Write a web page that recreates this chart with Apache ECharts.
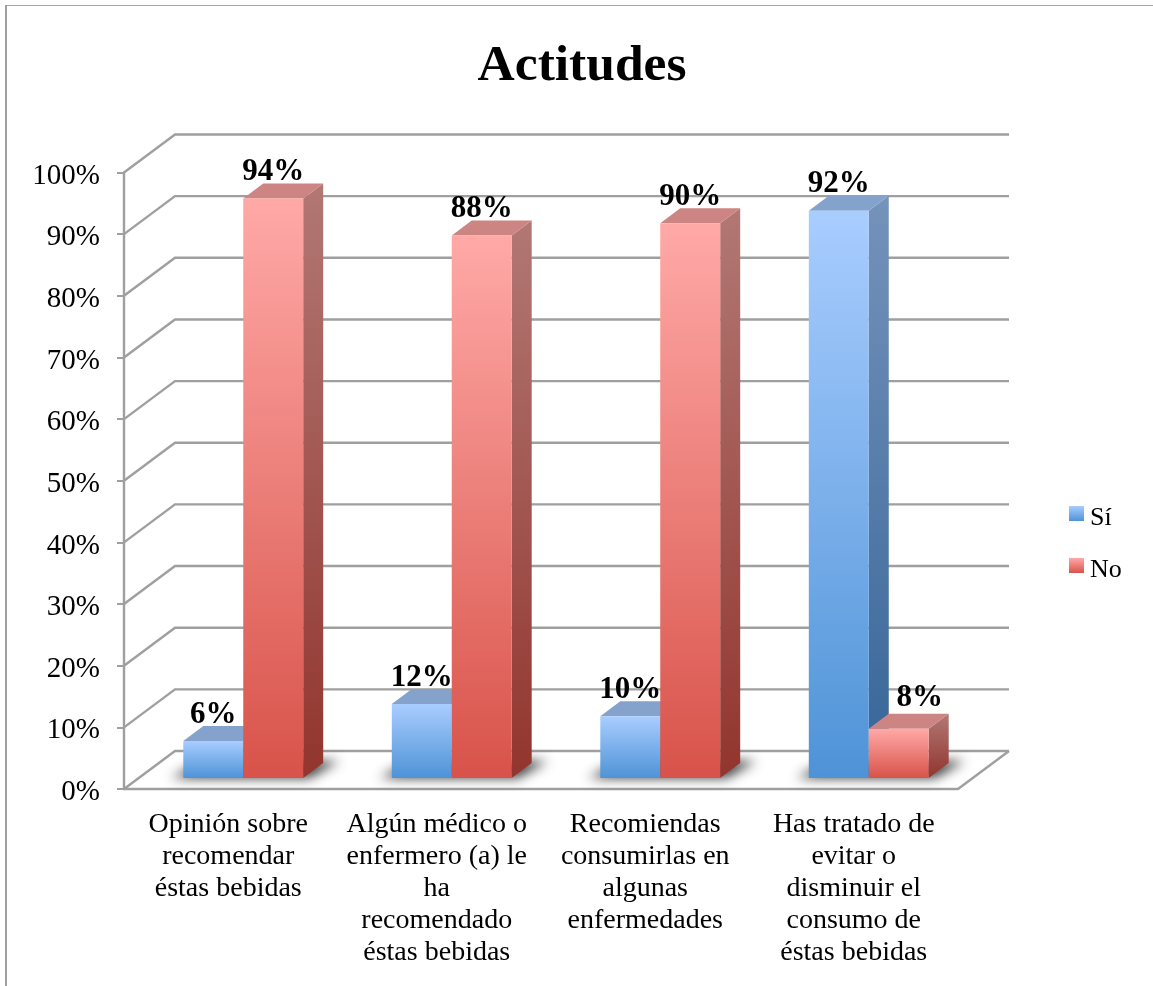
<!DOCTYPE html>
<html>
<head>
<meta charset="utf-8">
<title>Actitudes</title>
<script src="https://cdn.jsdelivr.net/npm/echarts@6/dist/echarts.min.js"></script>
<style>
  html, body { margin: 0; padding: 0; background: #fff; }
  #chart { width: 1153px; height: 986px; }
</style>
</head>
<body>
<div id="chart"></div>
<script>
const categories = [
  'Opinión sobre\nrecomendar\néstas bebidas',
  'Algún médico o\nenfermero (a) le\nha\nrecomendado\néstas bebidas',
  'Recomiendas\nconsumirlas en\nalgunas\nenfermedades',
  'Has tratado de\nevitar o\ndisminuir el\nconsumo de\néstas bebidas'
];
const siValues = [6, 12, 10, 92];
const noValues = [94, 88, 90, 8];
const percentTicks = [0, 10, 20, 30, 40, 50, 60, 70, 80, 90, 100];

const FONT = '"Liberation Serif", serif';
const GREY = '#9f9f9f';

// Oblique projection of the box: how far the back wall sits from the front plane.
const WALL_DX = 51, WALL_DY = -38;
// Bars stand a little behind the front edge of the floor.
const BAR_DX = 15, BAR_DY = -11;
// Bar side and top faces.
const SIDE_DX = 20, SIDE_DY = -15;
const BAR_BAND_RATIO = 0.2875;

const vGrad = (a, b) => new echarts.graphic.LinearGradient(0, 0, 0, 1, [
  { offset: 0, color: a }, { offset: 1, color: b }
]);

const siStyle = {
  front: () => vGrad('#a9cdff', '#4e93d7'),
  side: () => vGrad('#7593bb', '#366598'),
  top: '#84a2cb'
};
const noStyle = {
  front: () => vGrad('#ffa9a7', '#d8534a'),
  side: () => vGrad('#b27874', '#92352e'),
  top: '#cc8583'
};

// Back wall gridlines, with their oblique returns to the value axis.
function renderWall(params, api) {
  const rect = params.coordSys;
  const y = api.coord([0, api.value(1)])[1];
  const left = rect.x, right = rect.x + rect.width;
  const children = [{
    type: 'polyline',
    shape: { points: [[left, y], [left + WALL_DX, y + WALL_DY], [right + WALL_DX, y + WALL_DY]] },
    style: { stroke: GREY, lineWidth: 2.4, fill: null }
  }];
  if (api.value(1) === 0) {
    children.push({
      type: 'line',
      shape: { x1: right, y1: y, x2: right + WALL_DX, y2: y + WALL_DY },
      style: { stroke: GREY, lineWidth: 2.4 }
    });
  }
  return { type: 'group', children };
}

// Soft shadow cast on the floor by each pair of bars: only the blur of the
// shape is seen, the shape itself is moved aside by the shadow offset.
const SHADOW_SHIFT = 3000;
function renderShadow(params, api) {
  const i = api.value(0);
  const center = api.coord([i, 0]);
  const bw = api.size([1, 0])[0] * BAR_BAND_RATIO;
  const cx = center[0] + BAR_DX, y = center[1] + BAR_DY;
  return {
    type: 'polygon',
    x: -SHADOW_SHIFT,
    shape: { points: [
      [cx - bw - 12, y],
      [cx + bw + 6, y],
      [cx + bw + 36, y - 17],
      [cx - bw + 20, y - 17]
    ] },
    style: {
      fill: '#000',
      shadowBlur: 12,
      shadowOffsetX: SHADOW_SHIFT,
      shadowColor: 'rgba(50,50,50,0.95)'
    }
  };
}

function barRenderer(faces, slot) {
  return function (params, api) {
    const i = api.value(0);
    const v = api.value(1);
    const base = api.coord([i, 0]);
    const top = api.coord([i, v]);
    const bw = api.size([1, 0])[0] * BAR_BAND_RATIO;
    const x0 = base[0] + BAR_DX + slot * bw;
    const x1 = x0 + bw;
    const yb = base[1] + BAR_DY;
    const yt = top[1] + BAR_DY;
    // The small red bar's label sits clear of the tall blue bar beside it.
    const nudged = v < 9 && slot === 0 && siValues[i] > 50;
    const labelX = (x0 + x1) / 2 + (nudged ? 21 : 0);
    const labelY = yt - (nudged ? 23 : 19);
    return {
      type: 'group',
      children: [
        {
          type: 'polygon',
          shape: { points: [[x1, yb], [x1 + SIDE_DX, yb + SIDE_DY], [x1 + SIDE_DX, yt + SIDE_DY], [x1, yt]] },
          style: { fill: faces.side() }
        },
        {
          type: 'polygon',
          shape: { points: [[x0, yt], [x0 + SIDE_DX, yt + SIDE_DY], [x1 + SIDE_DX, yt + SIDE_DY], [x1, yt]] },
          style: { fill: faces.top }
        },
        {
          type: 'rect',
          shape: { x: x0, y: yt, width: bw, height: yb - yt },
          style: { fill: faces.front() }
        },
        {
          type: 'text',
          z2: 50,
          style: {
            text: v + '%',
            x: labelX,
            y: labelY + 8,
            align: 'center',
            verticalAlign: 'bottom',
            font: 'bold 31px ' + FONT,
            fill: '#000'
          }
        }
      ]
    };
  };
}

const chart = echarts.init(document.getElementById('chart'), null, { renderer: 'canvas' });

chart.setOption({
  animation: false,
  backgroundColor: '#fff',
  title: {
    text: 'Actitudes',
    left: 577,
    top: 36,
    textAlign: 'center',
    textStyle: { fontFamily: FONT, fontWeight: 'bold', fontSize: 51.5, color: '#000' }
  },
  grid: { left: 124, top: 172.5, width: 834, height: 616.5 },
  xAxis: {
    type: 'category',
    data: categories,
    axisLine: { lineStyle: { color: GREY, width: 2.4 } },
    axisTick: { length: 7, lineStyle: { color: GREY, width: 2 } },
    axisLabel: {
      interval: 0,
      margin: 20,
      fontFamily: FONT,
      fontSize: 28,
      lineHeight: 32,
      color: '#000'
    }
  },
  yAxis: {
    type: 'value',
    min: 0,
    max: 100,
    interval: 10,
    splitLine: { show: false },
    axisLine: { show: true, lineStyle: { color: GREY, width: 2.4 } },
    axisTick: { show: true, length: 7, lineStyle: { color: GREY, width: 2 } },
    axisLabel: {
      formatter: '{value}%',
      margin: 24,
      fontFamily: FONT,
      fontSize: 29,
      verticalAlign: 'top',
      lineHeight: 7,
      color: '#000'
    }
  },
  legend: {
    orient: 'vertical',
    left: 1064,
    top: 500,
    itemWidth: 15,
    itemHeight: 15,
    itemGap: 26,
    selectedMode: false,
    formatter: '{t|{name}}',
    textStyle: {
      color: '#000',
      rich: { t: { fontFamily: FONT, fontSize: 26, color: '#000', padding: [9, 0, 0, 1] } }
    },
    data: [
      { name: 'Sí', icon: 'rect', itemStyle: { color: vGrad('#a9cdff', '#4e93d7') } },
      { name: 'No', icon: 'rect', itemStyle: { color: vGrad('#ffa9a7', '#d8534a') } }
    ]
  },
  graphic: [
    { type: 'line', silent: true, shape: { x1: 5, y1: 5.5, x2: 1153, y2: 5.5 }, style: { stroke: '#a6a6a6', lineWidth: 1 } },
    { type: 'line', silent: true, shape: { x1: 6, y1: 5, x2: 6, y2: 986 }, style: { stroke: '#a0a0a0', lineWidth: 2 } }
  ],
  series: [
    {
      name: 'wall',
      type: 'custom',
      silent: true,
      z: 1,
      renderItem: renderWall,
      data: percentTicks.map(t => [0, t])
    },
    {
      name: 'floorShadow',
      type: 'custom',
      silent: true,
      z: 1,
      renderItem: renderShadow,
      data: categories.map((_, i) => [i, 0])
    },
    {
      name: 'Sí',
      type: 'custom',
      z: 2,
      renderItem: barRenderer(siStyle, -1),
      data: siValues.map((v, i) => [i, v])
    },
    {
      name: 'No',
      type: 'custom',
      z: 3,
      renderItem: barRenderer(noStyle, 0),
      data: noValues.map((v, i) => [i, v])
    }
  ]
});
</script>
</body>
</html>
